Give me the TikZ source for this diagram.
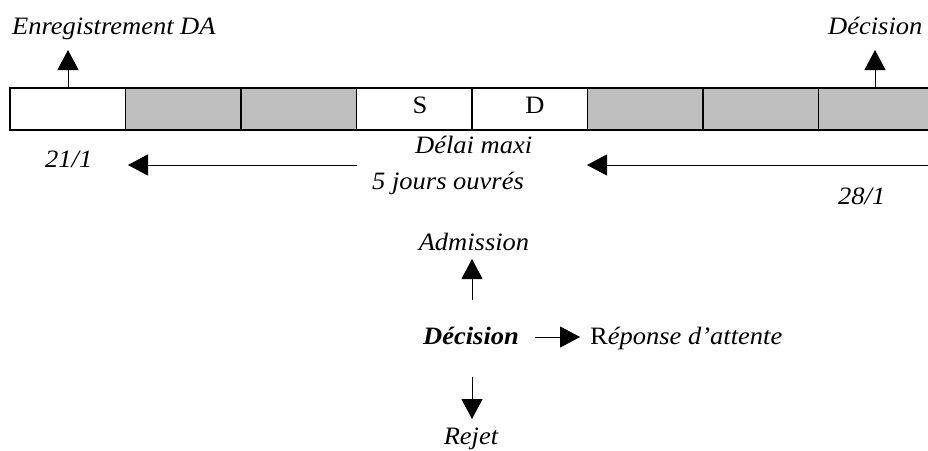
\documentclass[tikz,border=0pt]{standalone}
\usepackage{fontspec}
\setmainfont{Liberation Serif}[FakeStretch=1.06]
\usetikzlibrary{arrows.meta}
\tikzset{
  cellw/.style={draw=black, line width=1.2pt, fill=white},
  cellg/.style={draw=black, line width=1.2pt, fill=black!25},
  arr/.style={line width=1pt, -{Triangle[width=21pt,length=20pt]}},
  lbl/.style={font=\fontsize{25}{28}\selectfont\itshape, inner sep=0pt, anchor=base west},
  boxlbl/.style={font=\fontsize{25}{28}\selectfont, inner sep=0pt, anchor=base}
}
\begin{document}
\begin{tikzpicture}[x=1pt,y=-1pt]
\useasboundingbox (0,0) rectangle (928,450);
% bar cells
\foreach \i/\s in {0/cellw,1/cellg,2/cellg,3/cellw,4/cellw,5/cellg,6/cellg,7/cellg}{
  \path[\s] (10+\i*115.5,88) rectangle (10+\i*115.5+115.5,130);
}
\node[boxlbl] (S) at (420,113) {S};
\node[boxlbl] (D) at (535,113) {D};
% top labels
\node[lbl] (enr) at (12,34) {Enregistrement DA};
\node[lbl] (dec1) at (828,34) {Décision};
\coordinate (e0) at (68,88);
\coordinate (e1) at (68,50);
\draw[arr] (e0) -- (e1);
\coordinate (d0) at (875,88);
\coordinate (d1) at (875,50);
\draw[arr] (d0) -- (d1);
% delay arrows
\node[lbl] (d21) at (45,167) {21/1};
\node[lbl] (delai) at (415,153) {Délai maxi};
\node[lbl] (jours) at (372,189) {5 jours ouvrés};
\node[lbl] (d28) at (838,204) {28/1};
\coordinate (la0) at (357,165);
\coordinate (la1) at (128,165);
\draw[arr] (la0) -- (la1);
\coordinate (ra0) at (940,165);
\coordinate (ra1) at (587,165);
\draw[arr] (ra0) -- (ra1);
% decision tree
\node[lbl, anchor=base] (adm) at (474,250) {Admission};
\node[lbl, anchor=base, font=\fontsize{25}{28}\selectfont\bfseries\itshape] (dec) at (471,344) {Décision};
\node[lbl] (rep) at (590,344) {\upshape R\itshape éponse d{\char"27}attente};
\node[lbl, anchor=base] (rej) at (471,444) {Rejet};
\coordinate (a0) at (472,300);
\coordinate (a1) at (472,259);
\draw[arr] (a0) -- (a1);
\coordinate (r0) at (535,337);
\coordinate (r1) at (580,337);
\draw[arr] (r0) -- (r1);
\coordinate (b0) at (472,377);
\coordinate (b1) at (472,419);
\draw[arr] (b0) -- (b1);
\end{tikzpicture}
\end{document}
